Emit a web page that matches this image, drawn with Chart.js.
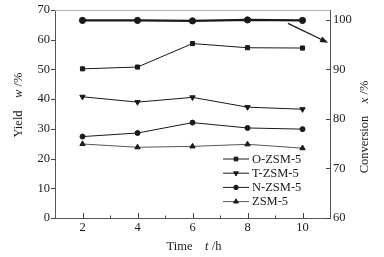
<!DOCTYPE html>
<html>
<head>
<meta charset="utf-8">
<script src="https://cdn.jsdelivr.net/npm/chart.js@4.4.1/dist/chart.umd.min.js"></script>
<style>
  html,body{margin:0;padding:0;background:#fff;}
  #wrap{width:384px;height:257px;position:relative;}
</style>
</head>
<body>
<div id="wrap"><canvas id="yieldChart"></canvas></div>
<script>
// reaction time, h
const times = [2, 4, 6, 8, 10];
// yield w/% (left axis)
const oZsm5 = [50.2, 50.8, 58.7, 57.3, 57.2];
const tZsm5 = [40.8, 39.0, 40.6, 37.3, 36.6];
const nZsm5 = [27.4, 28.6, 32.1, 30.3, 29.9];
const zsm5  = [24.9, 23.8, 24.1, 24.8, 23.5];
// conversion x/% (right axis)
const conversion = [99.9, 99.9, 99.8, 100.0, 99.9];
// arrow pointing the conversion curve to its axis (data units: time, conversion)
const arrowFrom = [9.47, 99.3];
const arrowTo   = [10.93, 95.4];

const xTitle  = [['Time',false],['    ',false],['t',true],[' /h',false]];
const yTitle  = [['Yield',false],['    ',false],['w',true],[' /%',false]];
const y1Title = [['Conversion',false],['    ',false],['x',true],[' /%',false]];

const FONT = '"Liberation Serif", "Times New Roman", serif';
const INK = '#1a1a1a';

function pts(ys){ return times.map((t,i)=>({x:t, y:ys[i]})); }

function series(label, ys, style, opts){
  return Object.assign({
    label, data: pts(ys), yAxisID:'y',
    borderColor: INK, backgroundColor: INK,
    borderWidth: 1, pointStyle: style, pointRadius: 3,
    pointBorderWidth: 1, pointBorderColor: INK, pointBackgroundColor: INK,
    tension: 0
  }, opts || {});
}

const datasets = [
  series('', conversion, 'circle', {yAxisID:'y1', borderWidth:2.2, pointRadius:3.1}),
  series('O-ZSM-5', oZsm5, 'rect', {pointRadius:2.9}),
  series('T-ZSM-5', tZsm5, 'triangle', {pointRadius:3.1, pointRotation:180}),
  series('N-ZSM-5', nZsm5, 'circle', {pointRadius:2.5}),
  series('ZSM-5', zsm5, 'triangle', {pointRadius:3.1, borderColor:'#555'})
];

function mark(ctx, ds, x, y){
  ctx.save();
  ctx.fillStyle = INK; ctx.strokeStyle = INK; ctx.lineWidth = 1;
  Chart.helpers.drawPoint(ctx, {pointStyle: ds.pointStyle, radius: ds.pointRadius * 0.9,
    rotation: ds.pointRotation || 0, borderWidth: 1}, x, y);
  ctx.restore();
}

function parts(ctx, list, cx, cy, rot){
  ctx.save();
  ctx.translate(cx, cy);
  ctx.rotate(rot);
  ctx.textBaseline = 'middle';
  ctx.fillStyle = INK;
  const fonts = list.map(p => (p[1] ? 'italic ' : '') + '12.5px ' + FONT);
  let w = 0;
  list.forEach((p,i)=>{ ctx.font = fonts[i]; w += ctx.measureText(p[0]).width; });
  let x = -w/2;
  list.forEach((p,i)=>{ ctx.font = fonts[i]; ctx.fillText(p[0], x, 0); x += ctx.measureText(p[0]).width; });
  ctx.restore();
}

const decor = {
  id:'decor',
  afterDraw(chart){
    const {ctx, chartArea:a, scales} = chart;
    const seg = (x1,y1,x2,y2)=>{ ctx.beginPath(); ctx.moveTo(x1,y1); ctx.lineTo(x2,y2); ctx.stroke(); };
    ctx.save();
    ctx.lineWidth = 1;
    // top frame line
    ctx.strokeStyle = '#b5b5b5';
    seg(a.left, a.top+0.5, a.right, a.top+0.5);
    // ticks: x inward, left outward, right inward
    ctx.strokeStyle = '#444';
    scales.x.ticks.forEach(t=>{
      if(t.value <= scales.x.min || t.value >= scales.x.max) return;
      const px = Math.round(scales.x.getPixelForValue(t.value)) + 0.5;
      seg(px, a.bottom, px, a.bottom - (t.value % 2 === 0 ? 5 : 2.5));
    });
    scales.y.ticks.forEach(t=>{
      const py = Math.round(scales.y.getPixelForValue(t.value)) + 0.5;
      seg(a.left - 4, py, a.left, py);
    });
    scales.y1.ticks.forEach(t=>{
      const py = Math.round(scales.y1.getPixelForValue(t.value)) + 0.5;
      seg(a.right - 4, py, a.right, py);
    });
    // arrow
    const x1 = scales.x.getPixelForValue(arrowFrom[0]), y1 = scales.y1.getPixelForValue(arrowFrom[1]);
    const x2 = scales.x.getPixelForValue(arrowTo[0]),   y2 = scales.y1.getPixelForValue(arrowTo[1]);
    const ang = Math.atan2(y2-y1, x2-x1);
    ctx.strokeStyle = INK; ctx.fillStyle = INK; ctx.lineWidth = 1.3;
    seg(x1, y1, x2 - 5*Math.cos(ang), y2 - 5*Math.sin(ang));
    ctx.beginPath();
    ctx.moveTo(x2, y2);
    ctx.lineTo(x2 - 8*Math.cos(ang) + 3*Math.sin(ang), y2 - 8*Math.sin(ang) - 3*Math.cos(ang));
    ctx.lineTo(x2 - 8*Math.cos(ang) - 3*Math.sin(ang), y2 - 8*Math.sin(ang) + 3*Math.cos(ang));
    ctx.closePath(); ctx.fill();
    // axis titles
    parts(ctx, yTitle, 18.5, (a.top + a.bottom)/2 - 9, -Math.PI/2);
    parts(ctx, y1Title, 365, (a.top + a.bottom)/2 + 13, -Math.PI/2);
    parts(ctx, xTitle, (a.left + a.right)/2 + 1.5, 247, 0);
    // legend inside the plot, lower right
    const rows = chart.data.datasets.filter(d => d.label);
    rows.forEach((d,i)=>{
      const y = a.bottom - 59 + i*14.2;
      ctx.strokeStyle = d.borderColor; ctx.lineWidth = 1;
      seg(a.right - 107, y, a.right - 81, y);
      mark(ctx, d, a.right - 94, y);
      ctx.fillStyle = INK;
      ctx.font = '12.5px ' + FONT;
      ctx.textBaseline = 'middle';
      ctx.fillText(d.label, a.right - 78, y + 0.5);
    });
    ctx.restore();
  }
};

const tickFont = {family: FONT, size: 12.5};
const noGrid = {display:false, drawTicks:false};
const axisBorder = {display:true, color:'#555', width:1};

new Chart(document.getElementById('yieldChart'), {
  type:'line',
  data:{ datasets },
  options:{
    responsive:true,
    maintainAspectRatio:false,
    animation:false,
    layout:{ padding:{top:10, left:0, right:0, bottom:0} },
    plugins:{ legend:{display:false}, tooltip:{enabled:false} },
    scales:{
      x:{
        type:'linear', min:1, max:11,
        grid:noGrid, border:axisBorder,
        ticks:{ stepSize:1, autoSkip:false, maxRotation:0, padding:2, color:INK, font:tickFont,
          callback:v => v % 2 === 0 ? v : '' },
        afterFit:s => { s.height = 39; s.paddingLeft = 0; s.paddingRight = 0; }
      },
      y:{
        position:'left', min:0, max:70,
        grid:noGrid, border:axisBorder,
        ticks:{ stepSize:10, padding:5, color:INK, font:tickFont },
        afterFit:s => { s.width = 55; s.paddingTop = 0; s.paddingBottom = 0; }
      },
      y1:{
        position:'right', min:60, max:102,
        grid:noGrid, border:axisBorder,
        ticks:{ stepSize:10, includeBounds:false, padding:3, color:INK, font:tickFont },
        afterFit:s => { s.width = 54; s.paddingTop = 0; s.paddingBottom = 0; }
      }
    }
  },
  plugins:[decor]
});
</script>
</body>
</html>
